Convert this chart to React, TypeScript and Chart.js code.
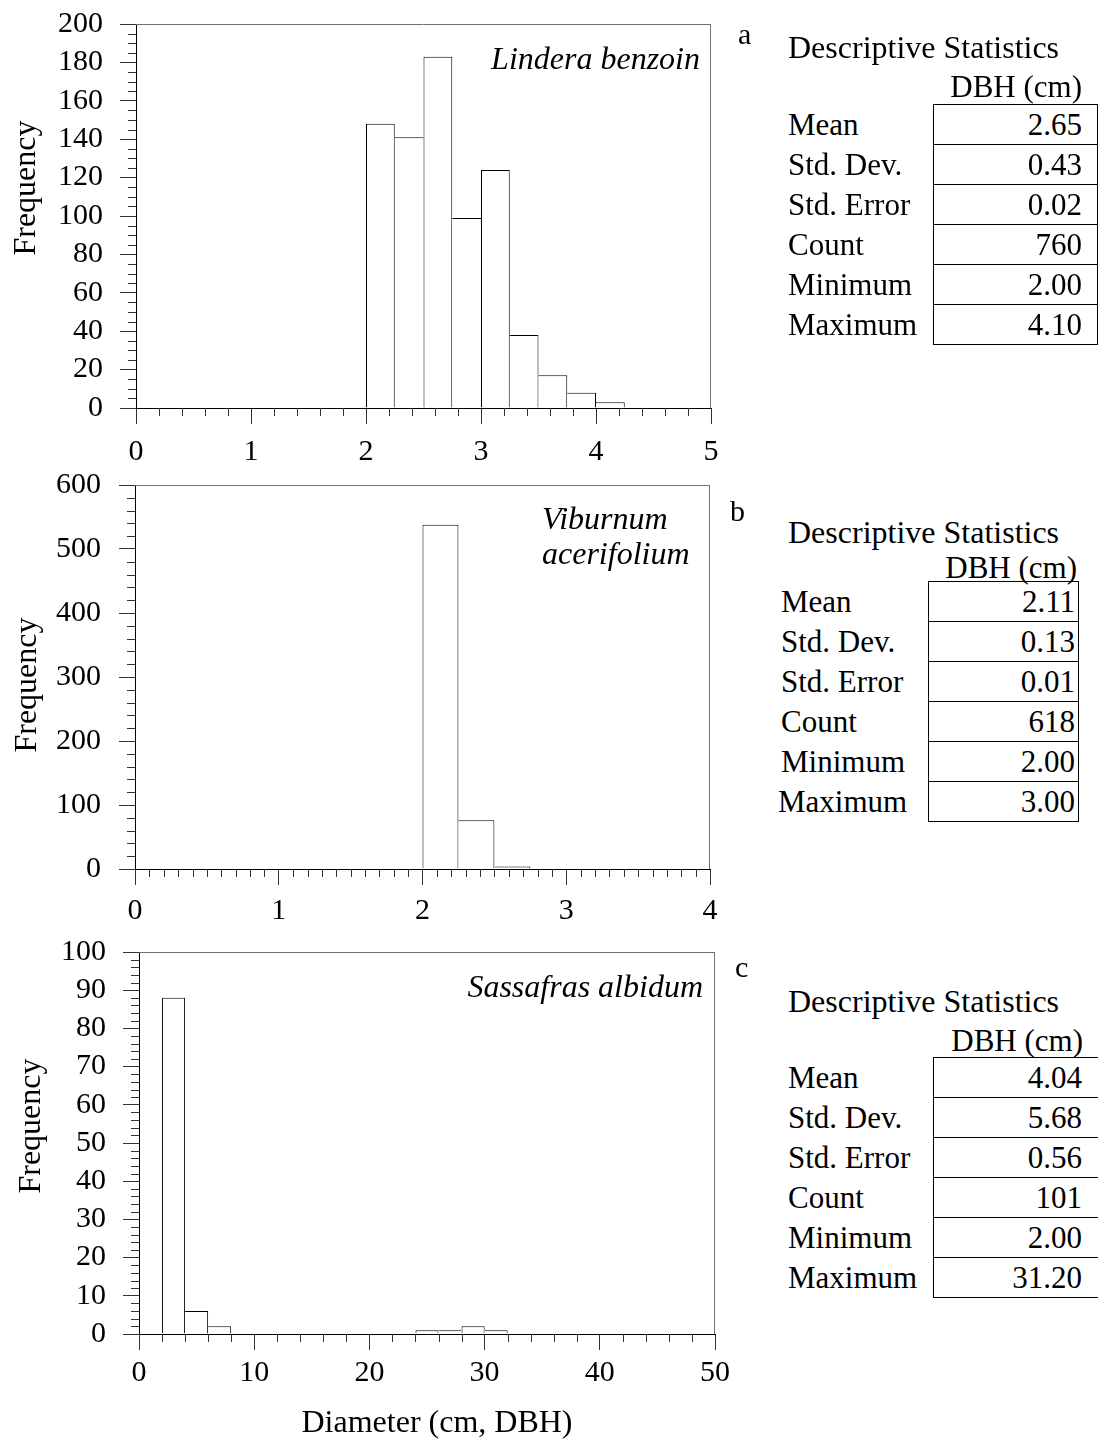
import React, { useEffect, useRef } from 'react';
import { Chart, registerables } from 'chart.js';

Chart.register(...registerables);

const FONT = "'Liberation Serif', 'Times New Roman', serif";

// ---------- Data ----------
// Panel a – Lindera benzoin (bin width 0.25 cm)
const aBinStart = [2.0, 2.25, 2.5, 2.75, 3.0, 3.25, 3.5, 3.75, 4.0];
const aFreq = [148, 141, 183, 99, 124, 38, 17, 8, 3];
// Panel b – Viburnum acerifolium (bin width 0.25 cm)
const bBinStart = [2.0, 2.25, 2.5];
const bFreq = [538, 76, 4];
// Panel c – Sassafras albidum (bin width 2 cm)
const cBinStart = [2, 4, 6, 24, 26, 28, 30];
const cFreq = [88, 6, 2, 1, 1, 2, 1];

const statLabels = ['Mean', 'Std. Dev.', 'Std. Error', 'Count', 'Minimum', 'Maximum'];
const aStats = ['2.65', '0.43', '0.02', '760', '2.00', '4.10'];
const bStats = ['2.11', '0.13', '0.01', '618', '2.00', '3.00'];
const cStats = ['4.04', '5.68', '0.56', '101', '2.00', '31.20'];

type Annot = { text: string; x: number; y: number; align: CanvasTextAlign; italic?: boolean; rotate?: boolean };

type HistProps = {
  binStart: number[];
  freq: number[];
  binWidth: number;
  xMax: number;
  xStep: number;
  xMinor: number;
  yMax: number;
  yStep: number;
  yMinor: number;
  canvasTop: number;
  width: number;
  height: number;
  plotLeft: number;
  plotTop: number;
  plotRight: number;
  plotBottom: number;
  xLabelPad: number;
  yLabelPad: number;
  annots: Annot[];
};

function Histogram(p: HistProps) {
  const ref = useRef<HTMLCanvasElement | null>(null);
  useEffect(() => {
    const canvas = ref.current;
    if (!canvas) return;
    const relTop = p.plotTop - p.canvasTop;
    const relBottom = p.plotBottom - p.canvasTop;
    const centers = p.binStart.map((s) => s + p.binWidth / 2);
    const data = centers.map((x, i) => ({ x, y: p.freq[i] }));
    const adj = (i: number, j: number) => {
      if (j < 0 || j >= p.binStart.length) return false;
      const lo = Math.min(i, j);
      const hi = Math.max(i, j);
      return Math.abs(p.binStart[lo] + p.binWidth - p.binStart[hi]) < 1e-6;
    };

    const decor = {
      id: 'decor',
      afterDraw(chart: any) {
        const ctx = chart.ctx as CanvasRenderingContext2D;
        const area = chart.chartArea;
        const xs = chart.scales.x;
        const ys = chart.scales.y;
        ctx.save();
        // top & right frame
        ctx.strokeStyle = '#707070';
        ctx.lineWidth = 1;
        const t = Math.round(area.top) + 0.5;
        const r = Math.round(area.right) - 0.5;
        ctx.beginPath();
        ctx.moveTo(Math.round(area.left), t);
        ctx.lineTo(r + 0.5, t);
        ctx.moveTo(r, t);
        ctx.lineTo(r, Math.round(area.bottom));
        ctx.stroke();
        // minor ticks
        ctx.strokeStyle = '#333';
        ctx.beginPath();
        const nx = Math.round(p.xMax / p.xMinor);
        for (let i = 0; i <= nx; i++) {
          const v = i * p.xMinor;
          const rem = Math.abs(v / p.xStep - Math.round(v / p.xStep));
          if (rem < 1e-6) continue;
          const px = Math.round(xs.getPixelForValue(v)) + 0.5;
          ctx.moveTo(px, Math.round(area.bottom));
          ctx.lineTo(px, Math.round(area.bottom) + 8);
        }
        const ny = Math.round(p.yMax / p.yMinor);
        for (let i = 0; i <= ny; i++) {
          const v = i * p.yMinor;
          const rem = Math.abs(v / p.yStep - Math.round(v / p.yStep));
          if (rem < 1e-6) continue;
          const py = Math.round(ys.getPixelForValue(v)) + 0.5;
          ctx.moveTo(Math.round(area.left), py);
          ctx.lineTo(Math.round(area.left) - 8, py);
        }
        ctx.stroke();
        // annotations
        ctx.fillStyle = '#000';
        for (const a of p.annots) {
          ctx.font = `${a.italic ? 'italic ' : ''}32px ${FONT}`;
          ctx.textAlign = a.align;
          if (a.rotate) {
            ctx.save();
            ctx.translate(a.x, a.y - p.canvasTop);
            ctx.rotate(-Math.PI / 2);
            ctx.textBaseline = 'middle';
            ctx.fillText(a.text, 0, 0);
            ctx.restore();
          } else {
            ctx.textBaseline = 'alphabetic';
            ctx.fillText(a.text, a.x, a.y - p.canvasTop);
          }
        }
        ctx.restore();
      },
    };

    const chart = new Chart(canvas, {
      type: 'bar',
      data: {
        datasets: [
          {
            data: data as any,
            backgroundColor: '#ffffff',
            borderColor: '#000000',
            borderSkipped: 'start',
            inflateAmount: 0,
            barPercentage: 1,
            categoryPercentage: 1,
            borderWidth: (ctx: any) => {
              const i = ctx.dataIndex;
              if (i === undefined) return 1;
              const h = p.freq[i];
              const left = adj(i, i - 1) && p.freq[i - 1] >= h ? 0 : 1;
              const right = adj(i, i + 1) && p.freq[i + 1] > h ? 0 : 1;
              return { top: 1, left, right, bottom: 0 };
            },
          } as any,
        ],
      },
      options: {
        animation: false,
        responsive: false,
        devicePixelRatio: 1,
        events: [],
        layout: { padding: { left: 0, top: relTop, right: p.width - p.plotRight, bottom: 0 } },
        plugins: { legend: { display: false }, tooltip: { enabled: false }, title: { display: false } },
        scales: {
          x: {
            type: 'linear',
            min: 0,
            max: p.xMax,
            offset: false,
            position: 'bottom',
            ticks: {
              stepSize: p.xStep,
              autoSkip: false,
              maxRotation: 0,
              font: { family: FONT, size: 30 },
              color: '#000',
              padding: p.xLabelPad,
            },
            grid: {
              display: true,
              offset: false,
              drawOnChartArea: false,
              drawTicks: true,
              tickLength: 16,
              tickColor: '#333',
            },
            border: { display: true, color: '#000', width: 1 },
            afterFit: (s: any) => {
              s.height = p.height - relBottom;
            },
          } as any,
          y: {
            type: 'linear',
            min: 0,
            max: p.yMax,
            ticks: {
              stepSize: p.yStep,
              autoSkip: false,
              font: { family: FONT, size: 30 },
              color: '#000',
              padding: p.yLabelPad,
            },
            grid: {
              display: true,
              drawOnChartArea: false,
              drawTicks: true,
              tickLength: 16,
              tickColor: '#333',
            },
            border: { display: true, color: '#000', width: 1 },
            afterFit: (s: any) => {
              s.width = p.plotLeft;
            },
          } as any,
        },
      },
      plugins: [decor],
    });
    return () => chart.destroy();
  }, []);
  return (
    <canvas
      ref={ref}
      width={p.width}
      height={p.height}
      style={{ position: 'absolute', left: 0, top: p.canvasTop, width: p.width, height: p.height }}
    />
  );
}

type TableProps = {
  letter: string;
  letterX: number;
  letterBase: number;
  dsX: number;
  dsBase: number;
  dbhRight: number;
  dbhBase: number;
  top: number;
  rowH: number;
  lineLeft: number;
  lineRight: number;
  rightBorder: boolean;
  labelX: number[];
  valueRight: number;
  values: string[];
};

function Txt(props: { text: string; x?: number; right?: number; base: number; size?: number }) {
  const fs = props.size ?? 31;
  const style: React.CSSProperties = {
    position: 'absolute',
    top: props.base - Math.round(fs * 0.8375),
    fontFamily: FONT,
    fontSize: fs,
    lineHeight: `${fs}px`,
    whiteSpace: 'nowrap',
    color: '#000',
  };
  if (props.right !== undefined) {
    style.right = 1098 - props.right;
    style.textAlign = 'right';
  } else style.left = props.x;
  return <div style={style}>{props.text}</div>;
}

function StatsTable(t: TableProps) {
  const n = statLabels.length;
  const bottom = t.top + n * t.rowH;
  const lines: React.ReactNode[] = [];
  for (let i = 0; i <= n; i++) {
    lines.push(
      <div
        key={'h' + i}
        style={{
          position: 'absolute',
          left: t.lineLeft,
          top: Math.round(t.top + i * t.rowH),
          width: t.lineRight - t.lineLeft,
          height: 1,
          background: '#000',
        }}
      />
    );
  }
  lines.push(
    <div key="vl" style={{ position: 'absolute', left: t.lineLeft, top: t.top, width: 1, height: bottom - t.top, background: '#000' }} />
  );
  if (t.rightBorder)
    lines.push(
      <div key="vr" style={{ position: 'absolute', left: t.lineRight - 1, top: t.top, width: 1, height: bottom - t.top, background: '#000' }} />
    );
  return (
    <>
      <Txt text={t.letter} x={t.letterX} base={t.letterBase} size={30} />
      <Txt text="Descriptive Statistics" x={t.dsX} base={t.dsBase} size={32} />
      <Txt text="DBH (cm)" right={t.dbhRight} base={t.dbhBase} size={31} />
      {lines}
      {statLabels.map((l, i) => (
        <Txt key={'l' + i} text={l} x={t.labelX[i]} base={t.top + i * t.rowH + 31} />
      ))}
      {t.values.map((v, i) => (
        <Txt key={'v' + i} text={v} right={t.valueRight} base={t.top + i * t.rowH + 31} />
      ))}
    </>
  );
}

export default function App() {
  return (
    <div style={{ position: 'absolute', left: 0, top: 0, width: 1098, height: 1445, background: '#fff', overflow: 'hidden' }}>
      <Histogram
        binStart={aBinStart}
        freq={aFreq}
        binWidth={0.25}
        xMax={5}
        xStep={1}
        xMinor={0.2}
        yMax={200}
        yStep={20}
        yMinor={5}
        canvasTop={-16}
        width={760}
        height={486}
        plotLeft={136}
        plotTop={24}
        plotRight={711}
        plotBottom={408}
        xLabelPad={10}
        yLabelPad={17}
        annots={[
          { text: 'Lindera benzoin', x: 700, y: 69, align: 'right', italic: true },
          { text: 'Frequency', x: 27, y: 188, align: 'center', rotate: true },
        ]}
      />
      <Histogram
        binStart={bBinStart}
        freq={bFreq}
        binWidth={0.25}
        xMax={4}
        xStep={1}
        xMinor={0.1}
        yMax={600}
        yStep={100}
        yMinor={20}
        canvasTop={445}
        width={760}
        height={485}
        plotLeft={135}
        plotTop={485}
        plotRight={710}
        plotBottom={869}
        xLabelPad={8}
        yLabelPad={18}
        annots={[
          { text: 'Viburnum', x: 542, y: 529, align: 'left', italic: true },
          { text: 'acerifolium', x: 542, y: 564, align: 'left', italic: true },
          { text: 'Frequency', x: 28, y: 685, align: 'center', rotate: true },
        ]}
      />
      <Histogram
        binStart={cBinStart}
        freq={cFreq}
        binWidth={2}
        xMax={50}
        xStep={10}
        xMinor={2}
        yMax={100}
        yStep={10}
        yMinor={2}
        canvasTop={912}
        width={760}
        height={533}
        plotLeft={139}
        plotTop={952}
        plotRight={715}
        plotBottom={1334}
        xLabelPad={5}
        yLabelPad={17}
        annots={[
          { text: 'Sassafras albidum', x: 703, y: 997, align: 'right', italic: true },
          { text: 'Frequency', x: 32, y: 1126, align: 'center', rotate: true },
          { text: 'Diameter (cm, DBH)', x: 437, y: 1432, align: 'center' },
        ]}
      />
      <StatsTable
        letter="a"
        letterX={738}
        letterBase={44}
        dsX={788}
        dsBase={58}
        dbhRight={1082}
        dbhBase={97}
        top={104}
        rowH={40}
        lineLeft={933}
        lineRight={1098}
        rightBorder={true}
        labelX={[788, 788, 788, 788, 788, 788]}
        valueRight={1082}
        values={aStats}
      />
      <StatsTable
        letter="b"
        letterX={730}
        letterBase={521}
        dsX={788}
        dsBase={543}
        dbhRight={1077}
        dbhBase={578}
        top={581}
        rowH={40}
        lineLeft={928}
        lineRight={1079}
        rightBorder={true}
        labelX={[781, 781, 781, 781, 781, 778]}
        valueRight={1075}
        values={bStats}
      />
      <StatsTable
        letter="c"
        letterX={735}
        letterBase={977}
        dsX={788}
        dsBase={1012}
        dbhRight={1083}
        dbhBase={1051}
        top={1057}
        rowH={40}
        lineLeft={933}
        lineRight={1098}
        rightBorder={false}
        labelX={[788, 788, 788, 788, 788, 788]}
        valueRight={1082}
        values={cStats}
      />
    </div>
  );
}
